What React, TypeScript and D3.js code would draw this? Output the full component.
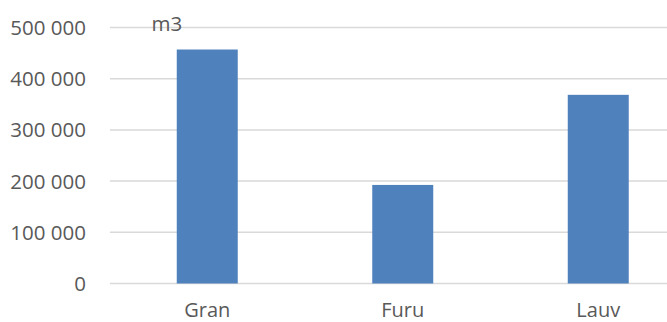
import React from "react";
import * as d3 from "d3";

const categories: string[] = ["Gran", "Furu", "Lauv"];
const values: number[] = [457000, 192500, 368500];
const yTicks: number[] = [0, 100000, 200000, 300000, 400000, 500000];
const unitLabel = "m3";

const W = 667;
const H = 322;
const FONT = "'Open Sans', 'Liberation Sans', sans-serif";
const TEXT = "#595959";

export default function App() {
  const y = d3.scaleLinear().domain([0, 500000]).range([283.5, 27.5]);
  const x = d3
    .scaleBand<string>()
    .domain(categories)
    .range([109.5, 696])
    .paddingInner(0.688)
    .paddingOuter(0.344);
  const fmt = (v: number) => d3.format(",")(v).replace(/,/g, " ");

  return (
    <div style={{ position: "absolute", left: 0, top: 0 }}>
      <svg width={W} height={H} style={{ display: "block", background: "#fff" }}>
        <rect x={0} y={0} width={W} height={H} fill="#ffffff" />
        {yTicks.map((t) => (
          <line
            key={"g" + t}
            x1={110}
            x2={W}
            y1={y(t)}
            y2={y(t)}
            stroke="#d9d9d9"
            strokeWidth={1.5}
          />
        ))}
        {categories.map((c, i) => (
          <rect
            key={c}
            x={x(c)}
            y={y(values[i])}
            width={x.bandwidth()}
            height={y(0) - y(values[i])}
            fill="#4f81bd"
          />
        ))}
        {yTicks.map((t) => (
          <text
            key={"l" + t}
            x={86}
            y={y(t) + 7.5}
            textAnchor="end"
            fontFamily={FONT}
            fontSize={20.5}
            fill={TEXT}
          >
            {fmt(t)}
          </text>
        ))}
        {categories.map((c) => (
          <text
            key={"x" + c}
            x={(x(c) as number) + x.bandwidth() / 2}
            y={317}
            textAnchor="middle"
            fontFamily={FONT}
            fontSize={20}
            fill={TEXT}
          >
            {c}
          </text>
        ))}
        <text x={151.5} y={31} fontFamily={FONT} fontSize={20.5} fill={TEXT}>
          {unitLabel}
        </text>
      </svg>
    </div>
  );
}
